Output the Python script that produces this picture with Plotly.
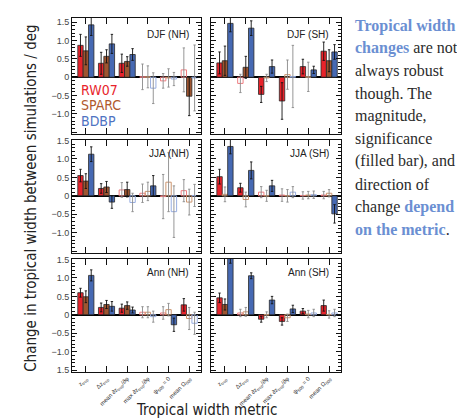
import plotly.graph_objects as go

W, H = 465, 420

metrics = ["z<sub>trop</sub>", "Δz<sub>trop</sub>", "mean ∂z<sub>trop</sub>/∂φ",
           "max ∂z<sub>trop</sub>/∂φ", "ψ<sub>500</sub> = 0", "mean Ω<sub>500</sub>"]
series = ["RW07", "SPARC", "BDBP"]
panels = ["DJF (NH)", "DJF (SH)", "JJA (NH)", "JJA (SH)", "Ann (NH)", "Ann (SH)"]

# values, errors, significance (1 = filled bar) per panel and dataset
djf_nh_val = {"RW07": [0.87, 0.38, 0.38, 0.01, -0.10, 0.20],
              "SPARC": [0.72, 0.57, 0.43, 0.01, -0.02, -0.52],
              "BDBP": [1.43, 0.91, 0.62, -0.30, -0.05, -0.02]}
djf_nh_err = {"RW07": [0.30, 0.30, 0.25, 0.35, 0.20, 0.60],
              "SPARC": [0.38, 0.18, 0.13, 0.30, 0.25, 0.53],
              "BDBP": [0.29, 0.26, 0.16, 0.42, 0.18, 0.90]}
djf_nh_sig = {"RW07": [1, 1, 1, 0, 0, 0], "SPARC": [1, 1, 1, 0, 0, 1], "BDBP": [1, 1, 1, 0, 0, 0]}

djf_sh_val = {"RW07": [0.39, -0.17, -0.47, -0.65, 0.29, 0.71],
              "SPARC": [0.45, 0.27, -0.02, 0.07, 0.01, 0.45],
              "BDBP": [1.47, 1.34, 0.29, 0.02, 0.20, 0.69]}
djf_sh_err = {"RW07": [0.30, 0.25, 0.22, 0.50, 0.20, 0.25],
              "SPARC": [0.40, 0.30, 0.10, 0.40, 0.40, 0.30],
              "BDBP": [0.23, 0.20, 0.18, 0.85, 0.10, 0.20]}
djf_sh_sig = {"RW07": [1, 0, 1, 1, 1, 1], "SPARC": [1, 1, 0, 0, 0, 1], "BDBP": [1, 1, 1, 0, 1, 1]}

jja_nh_val = {"RW07": [0.55, 0.20, 0.16, 0.07, -0.02, 0.14],
              "SPARC": [0.40, 0.24, 0.17, 0.12, 0.37, -0.17],
              "BDBP": [1.13, -0.17, -0.18, 0.27, -0.43, 0.01]}
jja_nh_err = {"RW07": [0.17, 0.13, 0.20, 0.25, 0.60, 0.30],
              "SPARC": [0.20, 0.15, 0.20, 0.25, 0.80, 0.35],
              "BDBP": [0.20, 0.17, 0.25, 0.28, 0.70, 0.30]}
jja_nh_sig = {"RW07": [1, 1, 0, 0, 0, 0], "SPARC": [1, 1, 1, 0, 0, 0], "BDBP": [1, 1, 0, 1, 0, 0]}

jja_sh_val = {"RW07": [0.52, 0.22, 0.10, 0.02, 0.01, 0.02],
              "SPARC": [0.04, -0.10, 0.00, 0.00, 0.02, 0.07],
              "BDBP": [1.34, 0.69, 0.27, 0.10, 0.03, -0.49]}
jja_sh_err = {"RW07": [0.20, 0.12, 0.15, 0.17, 0.10, 0.10],
              "SPARC": [0.20, 0.20, 0.15, 0.17, 0.10, 0.10],
              "BDBP": [0.20, 0.23, 0.15, 0.15, 0.10, 0.25]}
jja_sh_sig = {"RW07": [1, 1, 0, 0, 0, 0], "SPARC": [0, 0, 0, 0, 0, 0], "BDBP": [1, 1, 1, 0, 0, 1]}

ann_nh_val = {"RW07": [0.60, 0.20, 0.18, 0.07, 0.05, 0.27],
              "SPARC": [0.49, 0.28, 0.25, 0.07, 0.14, -0.10],
              "BDBP": [1.07, 0.23, 0.13, -0.05, -0.27, -0.23]}
ann_nh_err = {"RW07": [0.12, 0.12, 0.11, 0.15, 0.17, 0.17],
              "SPARC": [0.16, 0.11, 0.10, 0.15, 0.17, 0.30],
              "BDBP": [0.15, 0.13, 0.08, 0.15, 0.18, 0.30]}
ann_nh_sig = {"RW07": [1, 1, 1, 0, 0, 1], "SPARC": [1, 1, 1, 0, 0, 0], "BDBP": [1, 1, 1, 0, 1, 0]}

ann_sh_val = {"RW07": [0.46, 0.05, -0.12, -0.18, 0.10, 0.25],
              "SPARC": [0.28, 0.08, 0.00, -0.08, 0.02, 0.01],
              "BDBP": [1.55, 1.06, 0.40, 0.16, 0.05, 0.05]}
ann_sh_err = {"RW07": [0.13, 0.10, 0.08, 0.10, 0.07, 0.15],
              "SPARC": [0.15, 0.12, 0.08, 0.10, 0.10, 0.10],
              "BDBP": [0.15, 0.08, 0.10, 0.10, 0.10, 0.10]}
ann_sh_sig = {"RW07": [1, 0, 1, 1, 1, 1], "SPARC": [1, 0, 0, 0, 0, 0], "BDBP": [1, 1, 1, 1, 0, 0]}

panel_data = [(djf_nh_val, djf_nh_err, djf_nh_sig), (djf_sh_val, djf_sh_err, djf_sh_sig),
              (jja_nh_val, jja_nh_err, jja_nh_sig), (jja_sh_val, jja_sh_err, jja_sh_sig),
              (ann_nh_val, ann_nh_err, ann_nh_sig), (ann_sh_val, ann_sh_err, ann_sh_sig)]

fill_col = {"RW07": "#e8232b", "SPARC": "#9e5530", "BDBP": "#4669b3"}
hollow_col = {"RW07": "#ee7d80", "SPARC": "#cc9670", "BDBP": "#97ade0"}
label_col = {"RW07": "#e8232b", "SPARC": "#b0592e", "BDBP": "#4f73c2"}

NARROW = "Liberation Sans Narrow, Arial Narrow, DejaVu Sans Condensed, Arial, sans-serif"
SANS = "Liberation Sans, Arial, sans-serif"
SERIF = "Liberation Serif, DejaVu Serif, serif"

# pixel geometry
xcols = [(64, 193), (203, 333)]
yrows = [(6, 124), (130, 245), (251, 366)]
yranges = [[-1.55, 1.62], [-1.55, 1.52], [-1.55, 1.52]]

fig = go.Figure()
layout = {}
for p in range(6):
    r, c = divmod(p, 2)
    idx = p + 1
    xa = "x" if idx == 1 else f"x{idx}"
    ya = "y" if idx == 1 else f"y{idx}"
    vals, errs, sigs = panel_data[p]
    for s in series:
        for filled in (1, 0):
            yv = [v if sg == filled else None for v, sg in zip(vals[s], sigs[s])]
            ev = [e if sg == filled else None for e, sg in zip(errs[s], sigs[s])]
            fig.add_trace(go.Bar(
                x=list(range(6)), y=yv, xaxis=xa, yaxis=ya, offsetgroup=s,
                showlegend=False,
                marker=dict(color=fill_col[s] if filled else "rgba(255,255,255,0)",
                            line=dict(color="#2a2a2a" if filled else hollow_col[s],
                                      width=0.8 if filled else 1.0)),
                error_y=dict(type="data", array=ev, visible=True,
                             color="#111111" if filled else "#8a8a8a",
                             thickness=0.9, width=1.2),
            ))
    x0, x1 = xcols[c]
    y0, y1 = yrows[r]
    if r == 2:
        ttext = ["1.5", "−1.0", "−0.5", "0", "0.5", "1.0", "1.5"]
    else:
        ttext = ["", "−1.0", "−0.5", "0", "0.5", "1.0", "1.5"]
    layout["xaxis" if idx == 1 else f"xaxis{idx}"] = dict(
        domain=[x0 / W, x1 / W], anchor=ya, range=[-0.67, 5.57],
        tickvals=list(range(6)), ticktext=metrics if r == 2 else [""] * 6,
        showticklabels=(r == 2), tickangle=-45,
        tickfont=dict(family=SANS, size=6, color="#333"),
        ticks="inside", ticklen=6, tickcolor="#111", tickwidth=1,
        showline=True, linecolor="#111", linewidth=1, mirror="ticks",
        showgrid=False, zeroline=False, fixedrange=True)
    layout["yaxis" if idx == 1 else f"yaxis{idx}"] = dict(
        domain=[1 - y1 / H, 1 - y0 / H], anchor=xa, range=yranges[r],
        tickvals=[-1.5, -1.0, -0.5, 0, 0.5, 1.0, 1.5], ticktext=ttext,
        showticklabels=(c == 0),
        tickfont=dict(family=SANS, size=9, color="#444"),
        ticks="inside", ticklen=5, tickcolor="#111", tickwidth=1,
        minor=dict(dtick=0.1, ticks="inside", ticklen=3, tickcolor="#111", tickwidth=0.8),
        showline=True, linecolor="#111", linewidth=1, mirror="ticks",
        showgrid=False, zeroline=True, zerolinecolor="#000", zerolinewidth=1.6,
        fixedrange=True)

annotations = []
for p in range(6):
    r, c = divmod(p, 2)
    x0, x1 = xcols[c]
    y0, y1 = yrows[r]
    top = y0 + (3 if r == 0 else 0)
    annotations.append(dict(x=(x1 - 10) / W, y=1 - (top + 14) / H, xref="paper", yref="paper",
                            text=panels[p], showarrow=False, xanchor="right", yanchor="middle",
                            font=dict(family=SANS, size=10, color="#222")))

for i, s in enumerate(series):
    annotations.append(dict(x=71 / W, y=1 - (79 + 16 * i) / H, xref="paper", yref="paper",
                            text=s, showarrow=False, xanchor="left", yanchor="middle",
                            font=dict(family=NARROW, size=14, color=label_col[s])))

annotations.append(dict(x=23 / W, y=1 - 190 / H, xref="paper", yref="paper",
                        text="Change in tropical width between simulations / deg",
                        textangle=-90, showarrow=False, xanchor="center", yanchor="middle",
                        font=dict(family=NARROW, size=15, color="#222")))
annotations.append(dict(x=199 / W, y=1 - 405 / H, xref="paper", yref="paper",
                        text="Tropical width metric", showarrow=False,
                        xanchor="center", yanchor="middle",
                        font=dict(family=NARROW, size=15, color="#222")))

BLUE = "#6b8fd2"
DARK = "#2b2b2b"
def hl(t):
    return f"<span style='color:{BLUE}'><b>{t}</b></span>"

side_lines = [hl("Tropical width"), hl("changes") + " are not", "always robust",
              "though. The", "magnitude,", "significance", "(filled bar), and",
              "direction of", "change " + hl("depend"), hl("on the metric") + "."]
for i, t in enumerate(side_lines):
    annotations.append(dict(x=345 / W, y=1 - (14 + 23 * i) / H, xref="paper", yref="paper",
                            text=t, showarrow=False, xanchor="left", yanchor="middle",
                            font=dict(family=SERIF, size=16, color=DARK)))

fig.update_layout(**layout)
fig.update_layout(width=W, height=H, margin=dict(l=0, r=0, t=0, b=0),
                  paper_bgcolor="white", plot_bgcolor="white",
                  barmode="group", bargap=0.22, bargroupgap=0.0,
                  annotations=annotations, showlegend=False)
fig.write_html("out.html")
